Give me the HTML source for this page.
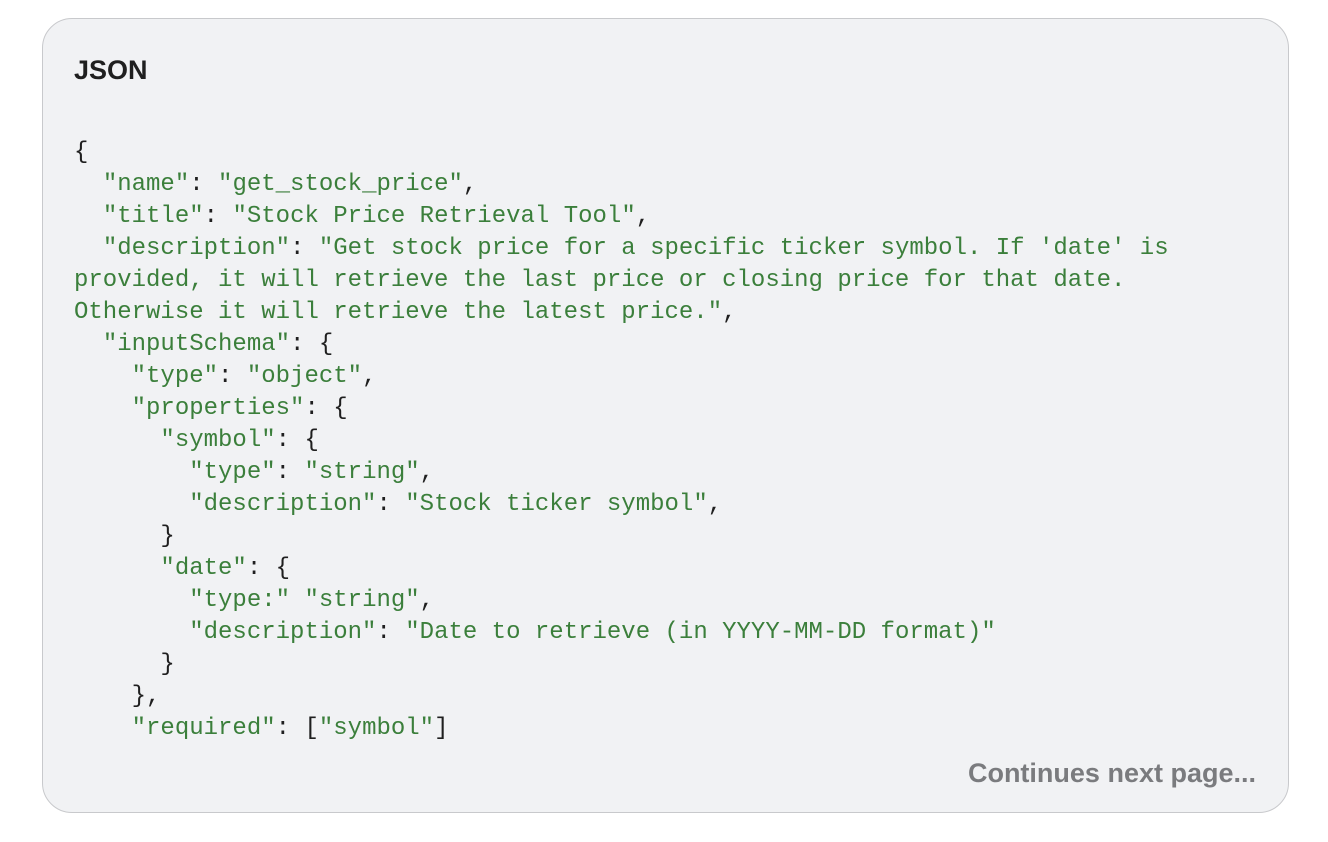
<!DOCTYPE html>
<html><head><style>
body{margin:0;background:#fff;width:1328px;height:842px;position:relative;overflow:hidden}
.box{position:absolute;left:42px;top:18px;width:1245px;height:793px;border:1.5px solid #c8c9cc;border-radius:30px;background:#f1f2f4}
.t{position:absolute;left:74px;top:55px;font:bold 27px "Liberation Sans",sans-serif;color:#1f1f1f}
pre{position:absolute;left:74px;top:137px;margin:0;font:24px/32px "Liberation Mono",monospace;color:#1f1f1f}
.g{color:#3b7f3b}
.c{position:absolute;right:72px;top:758px;font:bold 27px "Liberation Sans",sans-serif;color:#7a7b7e}
</style></head><body>
<div class="box"></div>
<div class="t">JSON</div>
<pre>{
  <span class="g">"name"</span>: <span class="g">"get_stock_price"</span>,
  <span class="g">"title"</span>: <span class="g">"Stock Price Retrieval Tool"</span>,
  <span class="g">"description"</span>: <span class="g">"Get stock price for a specific ticker symbol. If 'date' is
provided, it will retrieve the last price or closing price for that date.
Otherwise it will retrieve the latest price."</span>,
  <span class="g">"inputSchema"</span>: {
    <span class="g">"type"</span>: <span class="g">"object"</span>,
    <span class="g">"properties"</span>: {
      <span class="g">"symbol"</span>: {
        <span class="g">"type"</span>: <span class="g">"string"</span>,
        <span class="g">"description"</span>: <span class="g">"Stock ticker symbol"</span>,
      }
      <span class="g">"date"</span>: {
        <span class="g">"type:"</span> <span class="g">"string"</span>,
        <span class="g">"description"</span>: <span class="g">"Date to retrieve (in YYYY-MM-DD format)"</span>
      }
    },
    <span class="g">"required"</span>: [<span class="g">"symbol"</span>]</pre>
<div class="c">Continues next page...</div>
</body></html>
